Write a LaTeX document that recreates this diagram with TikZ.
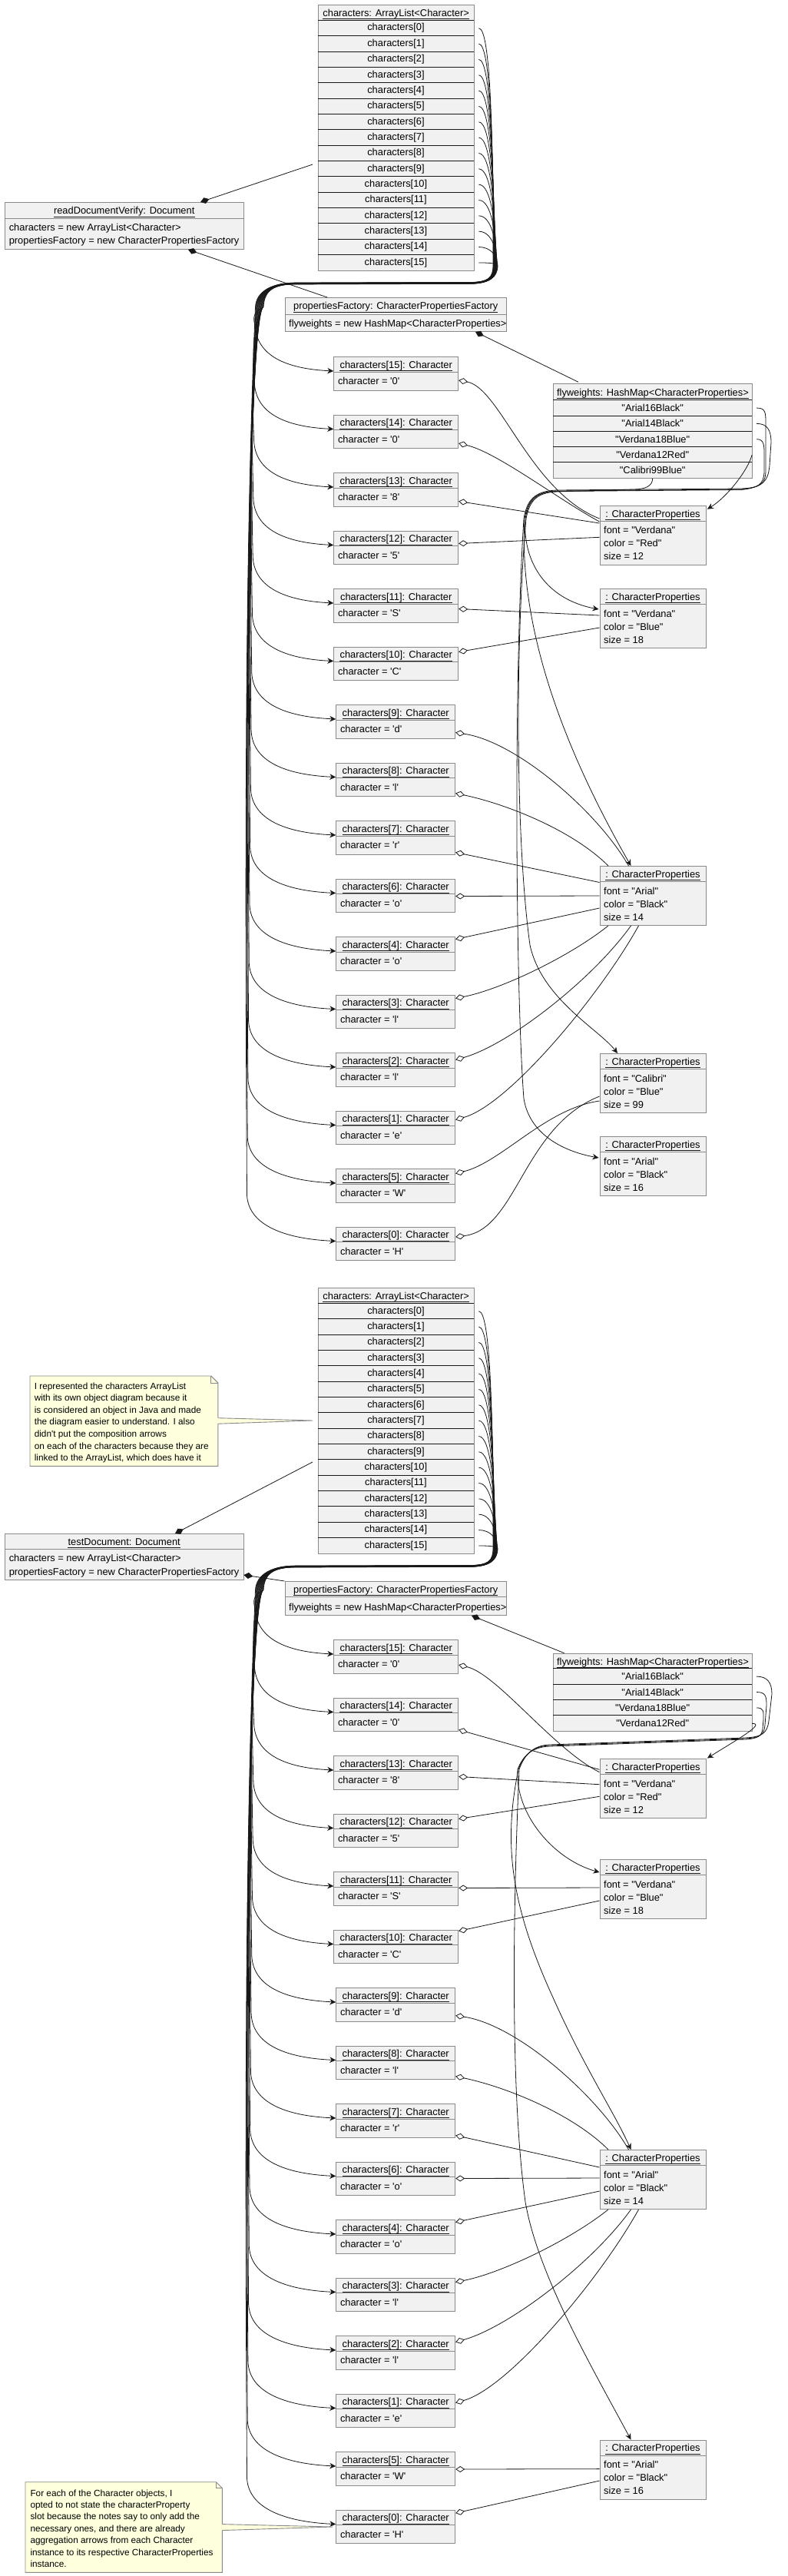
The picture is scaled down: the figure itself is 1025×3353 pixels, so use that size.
\documentclass[tikz,border=0pt]{standalone}
\usepackage{fontspec}
\setmainfont{Liberation Sans}[Ligatures=TeXOff]
\usetikzlibrary{arrows.meta,calc}
\definecolor{boxfill}{HTML}{F1F1F1}
\definecolor{boxline}{HTML}{8A8A8A}
\definecolor{notefill}{HTML}{FEFFDD}
\definecolor{edgec}{HTML}{181818}
\newcommand\fs{\fontsize{12.85}{15.5}\selectfont}
\newcommand\fsn{\fontsize{11.8}{15.5}\selectfont}
\tikzset{
  objbox/.style={draw=boxline, fill=boxfill, line width=0.9pt, inner sep=0pt, anchor=north west},
  rownode/.style={inner sep=0pt, anchor=north west, minimum width=202.5pt, minimum height=20.35pt, font=\fs},
  txt/.style={inner sep=0pt, font=\fs},
  ntxt/.style={inner sep=0pt, font=\fsn, anchor=base west},
  graysep/.style={draw=boxline, line width=0.9pt},
  rowsep/.style={draw=edgec, line width=0.9pt},
  uline/.style={draw=edgec, line width=0.7pt},
  link/.style={draw=edgec, line width=0.8pt},
  arr/.style={link, -{Stealth[length=8pt,width=7.5pt,inset=2.5pt]}},
  agg/.style={link, {Diamond[open,length=12pt,width=8pt]}-},
  comp/.style={link, {Diamond[length=12pt,width=8pt]}-},
  notebox/.style={draw=boxline, fill=notefill, line width=0.9pt},
}
% underlined title: #1 box name, #2 baseline offset, #3 text
\newcommand\boxtitle[3]{%
  \node[txt, anchor=base] (#1t) at ($(#1.north)+(0,#2)$) {#3};
  \draw[uline] ($(#1t.base west)+(0,3.3)$) -- ($(#1t.base east)+(0,3.3)$);
}
\newcommand\charobj[6]{%
  \node[objbox, minimum width=#4, minimum height=43.5] (#1) at (#2,{#3}) {};
  \draw[graysep] ($(#1.north west)+(0,20)$) -- ($(#1.north east)+(0,20)$);
  \boxtitle{#1}{15.3}{characters[#5]: Character\ }
  \node[txt, anchor=base west] at ($(#1.north west)+(5.5,36.5)$) {character = '#6'};
}
\newcommand\propobj[5]{%
  \node[objbox, minimum width=138, minimum height=77] (#1) at (780.5,#2) {};
  \draw[graysep] ($(#1.north west)+(0,20.5)$) -- ($(#1.north east)+(0,20.5)$);
  \boxtitle{#1}{15.3}{: CharacterProperties\ }
  \node[txt, anchor=base west] at ($(#1.north west)+(5.5,37)$) {font = "#3"};
  \node[txt, anchor=base west] at ($(#1.north west)+(5.5,54)$) {color = "#4"};
  \node[txt, anchor=base west] at ($(#1.north west)+(5.5,71)$) {size = #5};
}
\newcommand\CommonSection[2]{%
  \node[objbox, minimum width=202.5, minimum height=346] (#1L) at (414,{6+#2}) {};
  \boxtitle{#1L}{15.5}{characters: ArrayList<Character>}
  \foreach \i in {0,...,15} {
    \node[rownode] (#1r\i) at (414,{26.3+20.35*\i+#2}) {characters[\i]};
    \draw[rowsep] (#1r\i.north west) -- (#1r\i.north east);
  }
  \foreach \idx/\k/\vv in {15/0/0,14/1/0,13/2/8,12/3/5,11/4/S,10/5/C,9/6/d,8/7/l,7/8/r,6/9/o,4/10/o,3/11/l,2/12/l,1/13/e,5/14/W,0/15/H} {
    \pgfmathsetmacro\cxx{\idx>9 ? 434.3 : 437.3}
    \pgfmathsetmacro\cww{\idx>9 ? 162 : 155}
    \charobj{#1c\idx}{\cxx}{464+75.5*\k+#2}{\cww}{\idx}{\vv}
  }
  \foreach \i/\k in {0/15,1/13,2/12,3/11,4/10,5/14,6/9,7/8,8/7,9/6,10/5,11/4,12/3,13/2,14/1,15/0} {
    \pgfmathsetmacro\yi{36.5+20.35*\i}
    \pgfmathsetmacro\offa{(\i-7.5)*0.4}
    \pgfmathsetmacro\offb{2-0.7*\k}
    \pgfmathsetmacro\cyy{483+75.5*\k}
    \pgfmathsetmacro\aq{0.3*(\cyy-460)}
    \draw[arr] ($(#1r\i.east)+(6.5,0)$) .. controls +(16,0) and ({645+\offa},{#2+345-0.5*(345-\yi)}) .. ({645+\offa},{#2+345})
      .. controls ({645+\offa},{#2+362}) and (636,{#2+368+0.3*\offa}) .. (612,{#2+368.5+0.3*\offa})
      -- (385,{#2+369+0.3*\offa})
      .. controls (356,{#2+369+0.3*\offa}) and ({342+\offb},{#2+378}) .. ({341+\offb},{#2+400})
      .. controls ({326+\offb},{#2+400+\aq}) and ({328+\offb},{#2+\cyy-60-\aq}) .. ({330+\offb},{#2+\cyy-60})
      .. controls ({332+\offb},{#2+\cyy-20}) and (372,{#2+\cyy-3}) .. ($(#1c\i.north west)+(0,19)$);
  }
}
\begin{document}
\begin{tikzpicture}[x=1pt,y=-1pt]
\useasboundingbox (0,0) rectangle (1025,3353);
\fill[white] (0,0) rectangle (1025,3353);

%================ TOP SECTION =================
\CommonSection{A}{0}
\node[objbox, minimum width=310.5, minimum height=61] (doc1) at (6,263) {};
\draw[graysep] ($(doc1.north west)+(0,21)$) -- ($(doc1.north east)+(0,21)$);
\boxtitle{doc1}{15.8}{readDocumentVerify: Document}
\node[txt, anchor=base west] at ($(doc1.north west)+(5.6,37.7)$) {characters = new ArrayList<Character>};
\node[txt, anchor=base west] at ($(doc1.north west)+(5.6,54.7)$) {propertiesFactory = new CharacterPropertiesFactory};
\node[objbox, minimum width=288.5, minimum height=44] (AF) at (370.5,387) {};
\draw[graysep] ($(AF.north west)+(0,22)$) -- ($(AF.north east)+(0,22)$);
\boxtitle{AF}{15.8}{propertiesFactory: CharacterPropertiesFactory}
\node[txt, anchor=base west] at ($(AF.north west)+(5.5,38.7)$) {flyweights = new HashMap<CharacterProperties>};
\node[objbox, minimum width=258.4, minimum height=123] (F1) at (720.3,499.3) {};
\boxtitle{F1}{15.8}{flyweights: HashMap<CharacterProperties>}
\foreach \rr/\lab in {1/Arial16Black,2/Arial14Black,3/Verdana18Blue,4/Verdana12Red,5/Calibri99Blue} {
  \node[rownode, minimum width=258.4, minimum height=20.3] (F1r\rr) at (720.3,{520.7+20.3*(\rr-1)}) {"\lab"};
  \draw[rowsep] (F1r\rr.north west) -- (F1r\rr.north east);
}
\propobj{AP1}{657.7}{Verdana}{Red}{12}
\propobj{AP2}{766}{Verdana}{Blue}{18}
\propobj{AP3}{1127}{Arial}{Black}{14}
\propobj{AP4}{1371}{Calibri}{Blue}{99}
\propobj{AP5}{1479}{Arial}{Black}{16}
\draw[comp] ($(doc1.north west)+(255,0)$) -- ($(AL.north west)+(-7,208)$);
\draw[comp] ($(doc1.south west)+(239,0)$) -- ($(AF.north west)+(55.5,0)$);
\draw[comp] ($(AF.south west)+(248.5,0)$) -- ($(F1.north west)+(32.7,-2)$);
\draw[agg] ($(Ac15.north east)+(0,31)$) .. controls +(54,10) and +(-90,-35) .. ($(AP1.north west)+(0,17.3)$);
\draw[agg] ($(Ac14.north east)+(0,37.5)$) .. controls +(50,12) and +(-55,-30) .. ($(AP1.north west)+(0,21.3)$);
\draw[agg] ($(Ac13.north east)+(0,37.5)$) -- ($(AP1.north west)+(0,23.3)$);
\draw[agg] ($(Ac12.north east)+(0,17)$) -- ($(AP1.north west)+(0,41.6)$);
\draw[agg] ($(Ac11.north east)+(0,26.5)$) -- ($(AP2.north west)+(0,35)$);
\draw[agg] ($(Ac10.north east)+(0,7)$) -- ($(AP2.north west)+(0,51)$);
\draw[agg] ($(Ac9.north east)+(0,36.5)$) .. controls +(80,12) and +(-40,-70) .. ($(AP3.north west)+(38,0)$);
\draw[agg] ($(Ac8.north east)+(0,40)$) .. controls +(70,15) and +(-45,-45) .. ($(AP3.north west)+(11.5,0)$);
\draw[agg] ($(Ac7.north east)+(0,41.5)$) -- ($(AP3.north west)+(0,21.5)$);
\draw[agg] ($(Ac6.north east)+(0,23)$) -- ($(AP3.north west)+(0,39)$);
\draw[agg] ($(Ac4.north east)+(0,3.5)$) -- ($(AP3.north west)+(0,55)$);
\draw[agg] ($(Ac3.north east)+(0,5)$) .. controls +(60,-12) and +(-50,40) .. ($(AP3.south west)+(11.5,0)$);
\draw[agg] ($(Ac2.north east)+(0,9.5)$) .. controls +(70,-20) and +(-50,70) .. ($(AP3.south west)+(41,0)$);
\draw[agg] ($(Ac1.north east)+(0,12)$) .. controls +(70,-20) and +(-50,90) .. ($(AP3.south west)+(51,0)$);
\draw[agg] ($(Ac5.north east)+(0,6.5)$) .. controls +(60,-15) and +(-70,10) .. ($(AP4.north west)+(0,62)$);
\draw[agg] ($(Ac0.north east)+(0,13.5)$) .. controls +(80,-10) and +(-100,40) .. ($(AP4.north west)+(0,56)$);
\draw[arr] ($(F1r1.east)+(6,0)$) .. controls +(12,0) and (997,537) .. (997,552) -- (997,612) .. controls (997,630) and (990,635) .. (965,636) -- (725,638) .. controls (695,639) and (686,652) .. (682,675) .. controls (668,900) and (672,1300) .. (682,1430) .. controls (690,1480) and (740,1500) .. ($(AP5.north west)+(-1,28)$);
\draw[arr] ($(F1r2.east)+(6,0)$) .. controls +(14,0) and (1004,560) .. (1004,576) -- (1002,606) .. controls (1000,628) and (992,634) .. (965,637) -- (725,639) .. controls (695,640) and (687,653) .. (683,675) .. controls (676,800) and (720,950) .. ($(AP3.north west)+(41,0)$);
\draw[arr] ($(F1r3.east)+(6,0)$) .. controls +(10,0) and (995,580) .. (995,592) -- (995,615) .. controls (994,630) and (988,635) .. (965,637.5) -- (725,639.5) .. controls (696,640) and (688,653) .. (684,675) .. controls (680,730) and (710,780) .. ($(AP2.north west)+(-1,27)$);
\draw[arr] (F1r4.east) .. controls +(-5,20) and +(25,-15) .. ($(AP1.north east)+(1.5,5)$);
\draw[arr] (F1r5.south) .. controls +(0,10) and +(15,0) .. (825,637) -- (725,640) .. controls (697,641) and (689,654) .. (685,675) .. controls (670,850) and (672,1100) .. (690,1230) .. controls (705,1300) and (780,1340) .. ($(AP4.north west)+(23.5,0)$);

%================ BOTTOM SECTION =================
\CommonSection{B}{1670}
\node[objbox, minimum width=310.5, minimum height=60] (doc2) at (6,1996) {};
\draw[graysep] ($(doc2.north west)+(0,20)$) -- ($(doc2.north east)+(0,20)$);
\boxtitle{doc2}{15.5}{testDocument: Document}
\node[txt, anchor=base west] at ($(doc2.north west)+(5.6,36.7)$) {characters = new ArrayList<Character>};
\node[txt, anchor=base west] at ($(doc2.north west)+(5.6,54.2)$) {propertiesFactory = new CharacterPropertiesFactory};
\node[objbox, minimum width=288.5, minimum height=44] (BF) at (370.5,2058) {};
\draw[graysep] ($(BF.north west)+(0,20)$) -- ($(BF.north east)+(0,20)$);
\boxtitle{BF}{15.5}{propertiesFactory: CharacterPropertiesFactory}
\node[txt, anchor=base west] at ($(BF.north west)+(5.5,38.7)$) {flyweights = new HashMap<CharacterProperties>};
\node[objbox, minimum width=258.4, minimum height=101.6] (F2) at (720.3,2151.7) {};
\boxtitle{F2}{15.5}{flyweights: HashMap<CharacterProperties>}
\foreach \rr/\lab in {1/Arial16Black,2/Arial14Black,3/Verdana18Blue,4/Verdana12Red} {
  \node[rownode, minimum width=258.4, minimum height=20.4] (F2r\rr) at (720.3,{2171.7+20.4*(\rr-1)}) {"\lab"};
  \draw[rowsep] (F2r\rr.north west) -- (F2r\rr.north east);
}
\propobj{BP1}{2289}{Verdana}{Red}{12}
\propobj{BP2}{2420}{Verdana}{Blue}{18}
\propobj{BP3}{2798}{Arial}{Black}{14}
\propobj{BP5}{3175.6}{Arial}{Black}{16}
\draw[comp] ($(doc2.north west)+(222,0)$) -- ($(BL.north west)+(-7,227)$);
\draw[comp] ($(doc2.north east)+(0,54)$) -- (BF.north west);
\draw[comp] ($(BF.south west)+(243.5,0)$) -- ($(F2.north west)+(14.3,0)$);
\draw[agg] ($(Bc15.north east)+(0,33)$) .. controls +(50,12) and +(-60,-30) .. ($(BP1.north west)+(0,17.7)$);
\draw[agg] ($(Bc14.north east)+(0,42)$) -- ($(BP1.north west)+(0,14.3)$);
\draw[agg] ($(Bc13.north east)+(0,27.5)$) -- ($(BP1.north west)+(0,33.7)$);
\draw[agg] ($(Bc12.north east)+(0,7)$) -- ($(BP1.north west)+(0,49.3)$);
\draw[agg] ($(Bc11.north east)+(0,21.5)$) -- ($(BP2.north west)+(0,37)$);
\draw[agg] ($(Bc10.north east)+(0,2)$) -- ($(BP2.north west)+(0,54)$);
\draw[agg] ($(Bc9.north east)+(0,36.5)$) .. controls +(80,12) and +(-40,-70) .. ($(BP3.north west)+(38,0)$);
\draw[agg] ($(Bc8.north east)+(0,40)$) .. controls +(70,15) and +(-45,-45) .. ($(BP3.north west)+(11.5,0)$);
\draw[agg] ($(Bc7.north east)+(0,41.5)$) -- ($(BP3.north west)+(0,23)$);
\draw[agg] ($(Bc6.north east)+(0,22)$) -- ($(BP3.north west)+(0,37)$);
\draw[agg] ($(Bc4.north east)+(0,3.5)$) -- ($(BP3.north west)+(0,54)$);
\draw[agg] ($(Bc3.north east)+(0,6)$) .. controls +(60,-12) and +(-50,40) .. ($(BP3.south west)+(11.5,0)$);
\draw[agg] ($(Bc2.north east)+(0,8.5)$) .. controls +(70,-20) and +(-50,70) .. ($(BP3.south west)+(41,0)$);
\draw[agg] ($(Bc1.north east)+(0,12)$) .. controls +(70,-20) and +(-50,90) .. ($(BP3.south west)+(51,0)$);
\draw[agg] ($(Bc5.north east)+(0,23)$) -- ($(BP5.north west)+(0,38)$);
\draw[agg] ($(Bc0.north east)+(0,4.6)$) -- ($(BP5.north west)+(0,53.4)$);
\draw[arr] ($(F2r1.east)+(6,0)$) .. controls +(14,0) and (1005,2190) .. (1005,2205) -- (1001,2240) .. controls (999,2256) and (992,2261) .. (970,2262) -- (715,2271) .. controls (695,2272) and (683,2283) .. (676,2303) .. controls (665,2550) and (668,2750) .. (684,2866) .. controls (700,2960) and (770,3080) .. ($(BP5.north west)+(41,0)$);
\draw[arr] ($(F2r2.east)+(6,0)$) .. controls +(12,0) and (998,2208) .. (998,2220) -- (996,2245) .. controls (995,2258) and (990,2262) .. (970,2263) -- (715,2272) .. controls (694,2273) and (682,2284) .. (675,2303) .. controls (655,2400) and (665,2480) .. (720,2600) .. controls (760,2690) and (800,2750) .. ($(BP3.north west)+(41,0)$);
\draw[arr] ($(F2r3.east)+(6,0)$) .. controls +(10,0) and (994,2228) .. (994,2238) -- (993,2250) .. controls (992,2259) and (988,2263) .. (970,2264) -- (715,2273) .. controls (693,2274) and (681,2285) .. (674,2303) .. controls (670,2360) and (720,2420) .. ($(BP2.north west)+(0,17)$);
\draw[arr] (F2r4.east) .. controls +(18,0) and +(40,-25) .. ($(BP1.north east)+(1.5,-0.5)$);

%================ NOTES =================
\node[inner sep=0pt, minimum width=244.5, minimum height=117, anchor=north west] (note1) at (39,1791) {};
\draw[notebox] (note1.north west) -- ($(note1.north east)+(-9,0)$) -- ($(note1.north east)+(0,9)$) -- (note1.south east) -- (note1.south west) -- cycle;
\draw[boxline, line width=0.9pt] ($(note1.north east)+(-9,0)$) -- ($(note1.north east)+(-9,9)$) -- ($(note1.north east)+(0,9)$);
\coordinate (n1tip) at (407,1849);
\fill[notefill] ($(note1.east)+(-1,-4)$) -- (n1tip) -- ($(note1.east)+(-1,3.5)$) -- cycle;
\draw[boxline, line width=0.9pt] ($(note1.east)+(0,-4)$) -- (n1tip) -- ($(note1.east)+(0,3.5)$);
\foreach \j/\line in {0/I represented the characters ArrayList,1/with its own object diagram because it,2/is considered an object in Java and made,3/the diagram easier to understand. I also,4/didn't put the composition arrows,5/on each of the characters because they are,6/{linked to the ArrayList, which does have it}} {
  \node[ntxt] at (44.6,{1808+15.6*\j}) {\line};
}
\node[inner sep=0pt, minimum width=256, minimum height=117.3, anchor=north west] (note2) at (33,3230.7) {};
\draw[notebox] (note2.north west) -- ($(note2.north east)+(-8,0)$) -- ($(note2.north east)+(0,8)$) -- (note2.south east) -- (note2.south west) -- cycle;
\draw[boxline, line width=0.9pt] ($(note2.north east)+(-8,0)$) -- ($(note2.north east)+(-8,8)$) -- ($(note2.north east)+(0,8)$);
\coordinate (n2tip) at (433,3289);
\fill[notefill] ($(note2.east)+(-1,-4)$) -- (n2tip) -- ($(note2.east)+(-1,4)$) -- cycle;
\draw[boxline, line width=0.9pt] ($(note2.east)+(0,-4)$) -- (n2tip) -- ($(note2.east)+(0,4)$);
\foreach \j/\line in {0/{For each of the Character objects, I},1/opted to not state the characterProperty,2/slot because the notes say to only add the,3/{necessary ones, and there are already},4/aggregation arrows from each Character,5/instance to its respective CharacterProperties,6/instance.} {
  \node[ntxt] at (39.3,{3249+15.4*\j}) {\line};
}
\end{tikzpicture}
\end{document}
